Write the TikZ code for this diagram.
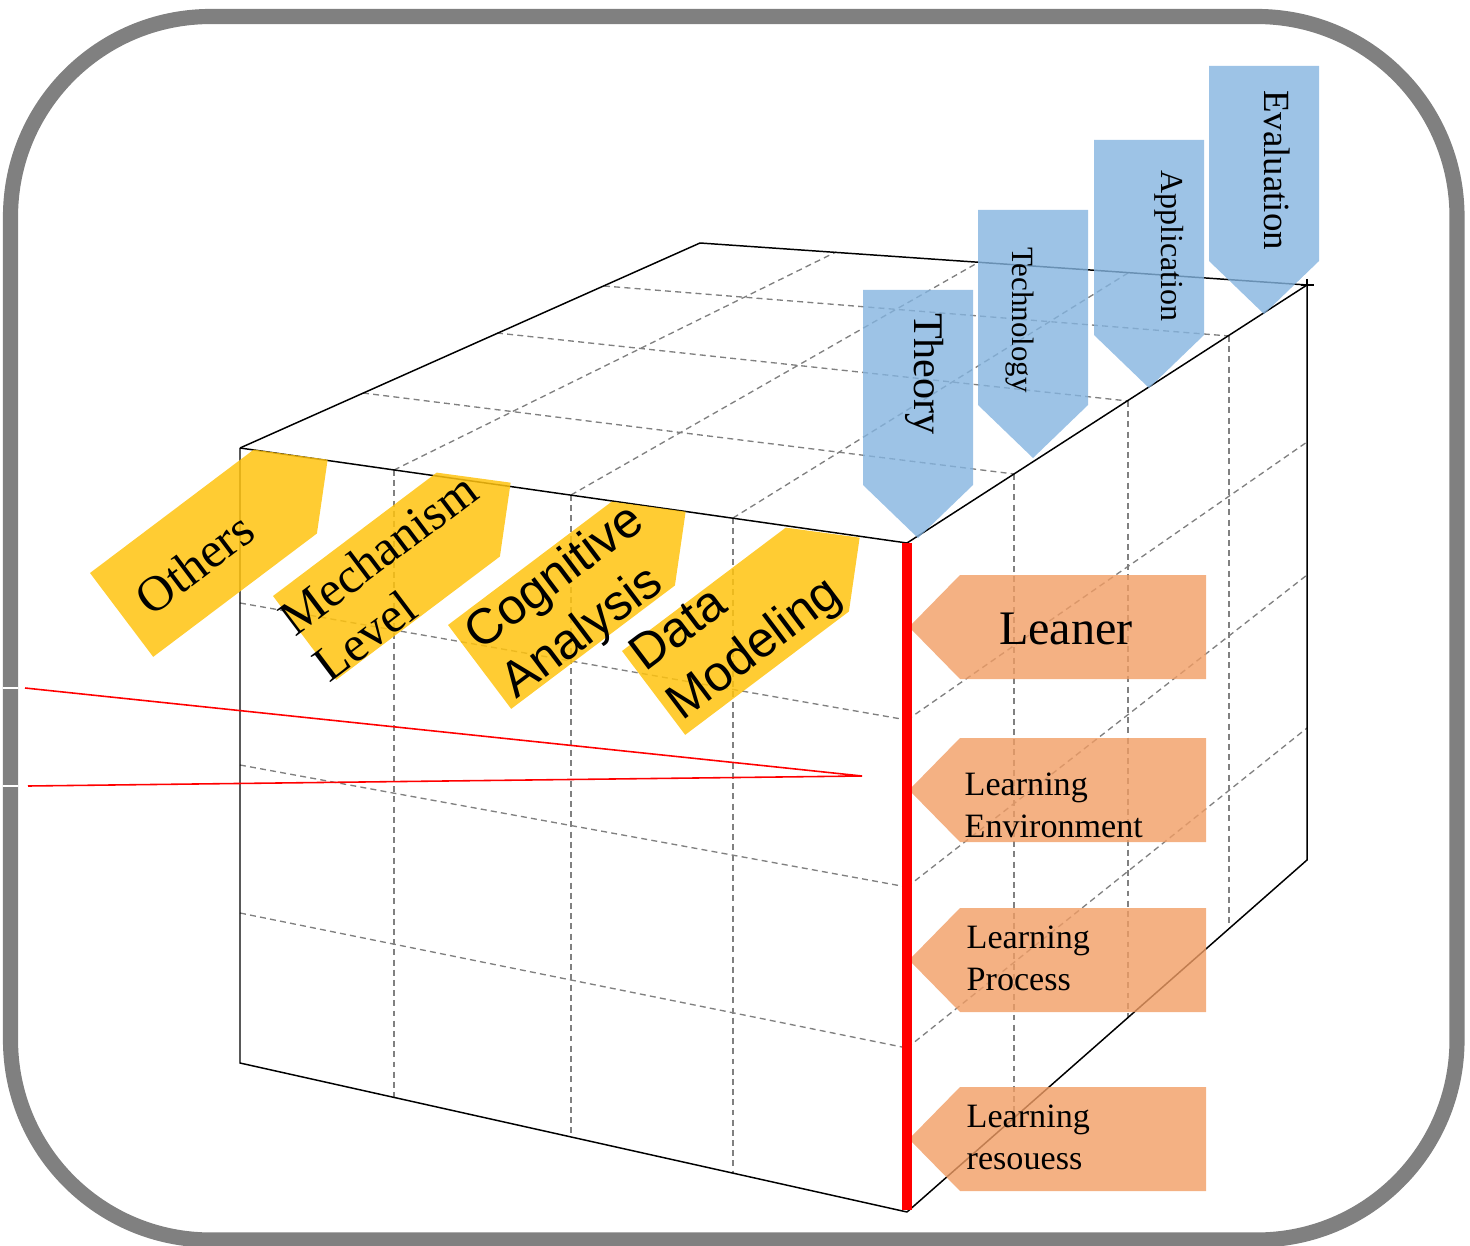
\documentclass[tikz,border=0pt]{standalone}
\usepackage{fontspec}
\setmainfont{Liberation Serif}
\newfontfamily\labelsans{Liberation Sans}
\definecolor{framegray}{RGB}{128,128,128}
\definecolor{gridgray}{RGB}{128,128,128}
\definecolor{tagyellow}{RGB}{255,195,15}
\definecolor{tagblue}{RGB}{132,180,224}
\definecolor{tagorange}{RGB}{241,157,100}
\begin{document}
\begin{tikzpicture}[x=0.01cm, y=-0.01cm, inner sep=0pt,
  edge/.style={draw=black, line width=0.42pt},
  gridline/.style={draw=gridgray, line width=0.38pt, dash pattern=on 1.7pt off 1.2pt},
  yellowtag/.style={fill=tagyellow, fill opacity=0.85},
  bluetag/.style={fill=tagblue, fill opacity=0.8},
  orangetag/.style={fill=tagorange, fill opacity=0.8},
  serifbig/.style={font=\fontsize{14.2}{16.4}\selectfont},
  sansbig/.style={font=\labelsans\fontsize{14.2}{17.2}\selectfont},
  sidetext/.style={font=\fontsize{9.7}{12}\selectfont, align=left, anchor=west}]

\useasboundingbox (0,0) rectangle (1470,1246);

% outer frame
\draw[framegray, line width=4.3pt, rounded corners=2cm] (10.5,16.5) rectangle (1457,1240);

% cube corners
\coordinate (A) at (240,448);   % front top left
\coordinate (B) at (907,543);   % front top right
\coordinate (C) at (907,1212);  % front bottom right
\coordinate (D) at (240,1063);  % front bottom left
\coordinate (E) at (700,243);   % back top left
\coordinate (F) at (1307,285);  % back top right
\coordinate (G) at (1307,860);  % back bottom right

% grid on the top face
\draw[gridline] (394,470) -- (836,252);
\draw[gridline] (571,495) -- (979,262);
\draw[gridline] (733,518) -- (1128,273);
\draw[gridline] (363,393) -- (1014,474);
\draw[gridline] (497,333) -- (1128,401);
\draw[gridline] (604,286) -- (1229,336);
% grid on the front face
\draw[gridline] (394,470) -- (394,1098);
\draw[gridline] (571,495) -- (571,1137);
\draw[gridline] (733,518) -- (733,1173);
\draw[gridline] (240,603) -- (907,720);
\draw[gridline] (240,765) -- (907,887);
\draw[gridline] (240,913) -- (907,1048);
% grid on the right face
\draw[gridline] (1014,474) -- (1014,1118);
\draw[gridline] (1128,401) -- (1128,1018);
\draw[gridline] (1229,336) -- (1229,929);
\draw[gridline] (907,720) -- (1307,442);
\draw[gridline] (907,887) -- (1307,575);
\draw[gridline] (907,1048) -- (1307,728);

% cube edges
\draw[edge] (A) -- (B);
\draw[edge] (A) -- (D) -- (C);
\draw[edge] (A) -- (E) -- (F) -- (B);
\draw[edge] (F) -- (G) -- (C);
\draw[edge] (1307,279) -- (F);
\draw[edge] (1301,285) -- (1314,285);

% thin red wedge
\coordinate (r1) at (25,688);
\coordinate (r2) at (28,786);
\coordinate (rtip) at (862,776);
\draw[red, line width=0.45pt] (r1) -- (rtip) -- (r2);
\draw[white, line width=0.4pt] (3,688) -- (18,688);
\draw[white, line width=0.4pt] (3,786) -- (18,786);

% yellow tags along the front face
\begin{scope}[shift={(90,573)}, rotate=37]
  \fill[yellowtag] (0,0) -- (205,0) -- (258,52.5) -- (205,105) -- (0,105) -- cycle;
  \node[serifbig, rotate=37] (others) at (89,55) {Others};
\end{scope}
\begin{scope}[shift={(273,596)}, rotate=37]
  \fill[yellowtag] (0,0) -- (205,0) -- (258,52.5) -- (205,105) -- (0,105) -- cycle;
  \node[serifbig, rotate=37, align=left, anchor=west] (mechanism) at (-8,58) {Mechanism\\Level};
\end{scope}
\begin{scope}[shift={(448,625)}, rotate=37]
  \fill[yellowtag] (0,0) -- (205,0) -- (258,52.5) -- (205,105) -- (0,105) -- cycle;
  \node[sansbig, rotate=37, align=left, anchor=west] (cognitive) at (9,58) {Cognitive\\Analysis};
\end{scope}
\begin{scope}[shift={(622,651)}, rotate=37]
  \fill[yellowtag] (0,0) -- (205,0) -- (258,52.5) -- (205,105) -- (0,105) -- cycle;
  \node[sansbig, rotate=37, align=left, anchor=west] (datamodel) at (5,50) {Data\\Modeling};
\end{scope}

% blue tags above the top face
\foreach \L/\T in {863/290, 978/210, 1094/140, 1209/66}
  \fill[bluetag] (\L,\T) -- (\L+110,\T) -- (\L+110,\T+195) -- (\L+55,\T+248) -- (\L,\T+195) -- cycle;

% orange tags on the right face
\foreach \T in {575, 738, 908, 1087}
  \fill[orangetag] (1206,\T) -- (960,\T) -- (909,\T+52) -- (960,\T+104) -- (1206,\T+104) -- cycle;

% front right edge
\draw[red, line width=3.1pt] (B) -- (907,1210);

% blue tag labels
\node[rotate=-90, font=\fontsize{12}{14}\selectfont] (theory) at (925,374) {Theory};
\node[rotate=-90, font=\fontsize{8.8}{10}\selectfont] (technology) at (1020,320) {Technology};
\node[rotate=-90, font=\fontsize{9.1}{10}\selectfont] (application) at (1169,246) {Application};
\node[rotate=-90, font=\fontsize{10.5}{12}\selectfont] (evaluation) at (1277,170) {Evaluation};

% orange tag labels
\node[font=\fontsize{13.7}{16}\selectfont, anchor=base] (leaner) at (1066,644) {Leaner};
\node[sidetext] (environment) at (964,805) {Learning\\Environment};
\node[sidetext] (process) at (966,958) {Learning\\Process};
\node[sidetext] (resources) at (966,1137) {Learning\\resouess};

\end{tikzpicture}
\end{document}
